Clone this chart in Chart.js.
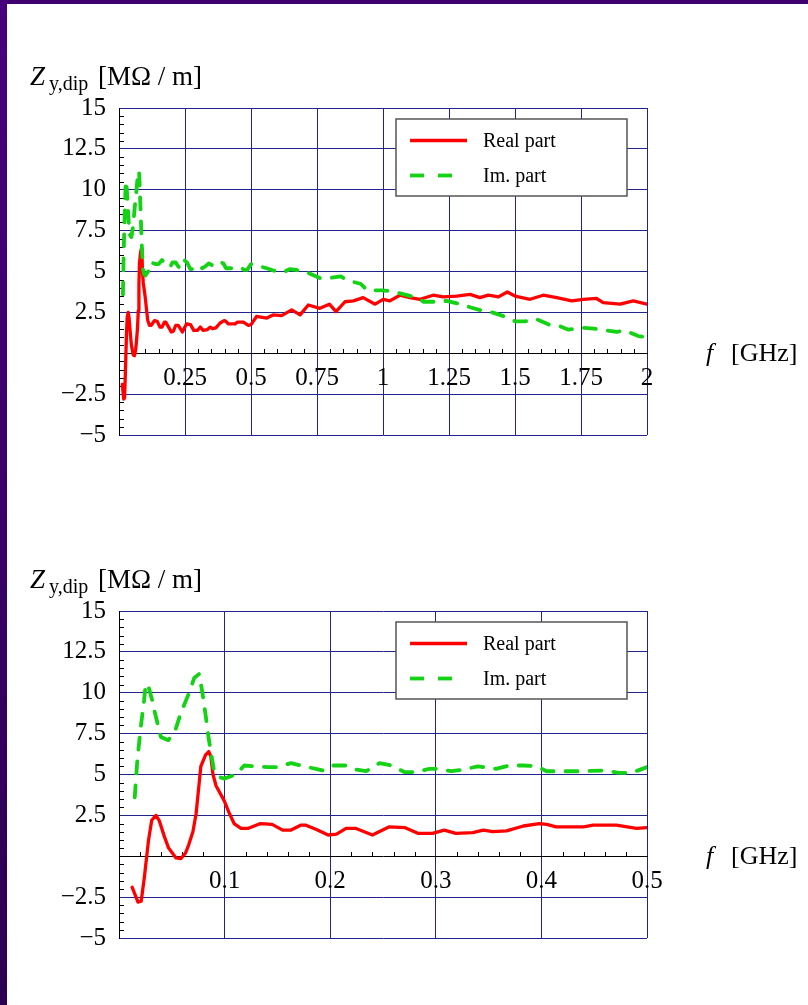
<!DOCTYPE html>
<html>
<head>
<meta charset="utf-8">
<script src="https://cdn.jsdelivr.net/npm/chart.js@4.4.1/dist/chart.umd.min.js"></script>
<style>
  html, body { margin: 0; padding: 0; background: #fff; }
  body { width: 808px; height: 1005px; position: relative; overflow: hidden;
         font-family: 'Liberation Serif', 'Times New Roman', serif; }
  #edgeTop { position: absolute; left: 0; top: 0; width: 808px; height: 4px; background: #40006f; }
  #edgeLeft { position: absolute; left: 0; top: 0; width: 7px; height: 1005px;
              background: linear-gradient(#47007d, #2c0051); }
  canvas { position: absolute; left: 0; }
  .lbl { position: absolute; white-space: nowrap; color: #000; line-height: 1; }
</style>
</head>
<body>
<div id="edgeTop"></div>
<div id="edgeLeft"></div>

<canvas id="chartWide" width="808" height="470" style="top:0px"></canvas>
<canvas id="chartZoom" width="808" height="470" style="top:503px"></canvas>

<!-- axis captions, upper panel -->
<span class="lbl" style="left:30px;top:63px;font-size:27px;font-style:italic">Z</span>
<span class="lbl" style="left:49px;top:73px;font-size:20px">y,dip</span>
<span class="lbl" style="left:98px;top:63px;font-size:27px">[MΩ / m]</span>
<span class="lbl" style="left:706px;top:340px;font-size:26px;font-style:italic">f</span>
<span class="lbl" style="left:731px;top:340px;font-size:26px">[GHz]</span>

<!-- axis captions, lower panel -->
<span class="lbl" style="left:30px;top:566px;font-size:27px;font-style:italic">Z</span>
<span class="lbl" style="left:49px;top:576px;font-size:20px">y,dip</span>
<span class="lbl" style="left:98px;top:566px;font-size:27px">[MΩ / m]</span>
<span class="lbl" style="left:706px;top:843px;font-size:26px;font-style:italic">f</span>
<span class="lbl" style="left:731px;top:843px;font-size:26px">[GHz]</span>

<script>
// Transverse dipolar impedance Z_y,dip versus frequency (GHz), MΩ/m
const seriesNames = ['Real part', 'Im. part'];

const freqReal = [
  0.0125, 0.018, 0.021, 0.024, 0.028, 0.031, 0.035, 0.038, 0.043, 0.047,
  0.054, 0.0585, 0.063, 0.066, 0.070, 0.073, 0.0755, 0.0775, 0.082, 0.085,
  0.087, 0.089, 0.092, 0.0996, 0.104, 0.109, 0.1155, 0.122, 0.128, 0.134,
  0.145, 0.155, 0.163, 0.172, 0.177, 0.187, 0.198, 0.206, 0.215, 0.2245,
  0.240, 0.256, 0.271, 0.283, 0.297, 0.308, 0.319, 0.335, 0.345, 0.354,
  0.367, 0.383, 0.398, 0.405, 0.414, 0.440, 0.449, 0.471, 0.490, 0.500,
  0.521, 0.560, 0.585, 0.616, 0.654, 0.686, 0.717, 0.761, 0.797, 0.822,
  0.856, 0.888, 0.925, 0.970, 1.001, 1.026, 1.064, 1.102, 1.140, 1.190,
  1.228, 1.279, 1.330, 1.367, 1.399, 1.437, 1.471, 1.500, 1.557, 1.607,
  1.658, 1.715, 1.759, 1.809, 1.834, 1.898, 1.948, 2.000
];
const realPart = [
  -1.9, -2.8, -2.75, -1.3, 1.0, 2.2, 2.5, 2.2, 1.2, 0.5,
  -0.1, -0.15, 0.2, 0.7, 1.5, 2.6, 4.2, 5.5, 6.2, 6.4,
  6.1, 5.0, 4.3, 3.4, 2.7, 2.0, 1.7, 1.7, 1.85, 2.0,
  1.95, 1.6, 1.6, 1.9, 1.9, 1.63, 1.3, 1.35, 1.7, 1.7,
  1.3, 1.8, 1.75, 1.4, 1.4, 1.6, 1.4, 1.45, 1.6, 1.5,
  1.55, 1.85, 2.0, 1.95, 1.8, 1.8, 1.9, 1.9, 1.7, 1.75,
  2.25, 2.15, 2.35, 2.3, 2.65, 2.35, 2.95, 2.75, 3.0, 2.55,
  3.15, 3.2, 3.4, 3.0, 3.3, 3.2, 3.55, 3.4, 3.3, 3.55,
  3.45, 3.5, 3.6, 3.4, 3.55, 3.45, 3.75, 3.5, 3.3, 3.55,
  3.4, 3.2, 3.3, 3.35, 3.1, 3.0, 3.2, 3.0
];

const freqIm = [
  0.0149, 0.0174, 0.0206, 0.0237, 0.0253, 0.0278, 0.0316, 0.0332, 0.0373, 0.0396,
  0.0468, 0.0538, 0.0585, 0.0664, 0.0712, 0.0759, 0.079, 0.0822, 0.0847, 0.087,
  0.0901, 0.0949, 0.0996, 0.1107, 0.1186, 0.130, 0.1407, 0.150, 0.163, 0.172,
  0.193, 0.2024, 0.215, 0.2245, 0.234, 0.2467, 0.2578, 0.2704, 0.2815, 0.294,
  0.302, 0.3147, 0.3257, 0.340, 0.357, 0.370, 0.3826, 0.3953, 0.405, 0.4238,
  0.436, 0.4618, 0.473, 0.4855, 0.500, 0.5595, 0.587, 0.6225, 0.648, 0.705,
  0.761, 0.797, 0.840, 0.865, 0.915, 0.940, 0.998, 1.030, 1.128, 1.153,
  1.200, 1.240, 1.294, 1.333, 1.377, 1.414, 1.469, 1.500, 1.538, 1.580,
  1.630, 1.670, 1.700, 1.759, 1.800, 1.847, 1.885, 1.917, 1.967, 1.990
];
const imPart = [
  3.6, 5.9, 7.9, 9.5, 10.55, 10.4, 9.5, 9.0, 7.9, 7.3,
  7.1, 7.8, 8.75, 10.0, 10.9, 11.15, 10.0, 8.55, 7.3, 6.4,
  5.2, 4.85, 4.75, 5.0, 5.55, 5.5, 5.45, 5.45, 5.7, 5.55,
  5.25, 5.55, 5.55, 5.3, 5.2, 5.7, 5.55, 5.15, 5.15, 5.35,
  5.35, 5.2, 5.3, 5.5, 5.35, 5.55, 5.55, 5.5, 5.2, 5.2,
  5.2, 5.25, 5.1, 5.1, 5.45, 5.2, 5.05, 4.95, 5.15, 5.0,
  4.6, 4.6, 4.7, 4.45, 4.25, 3.85, 3.85, 3.8, 3.4, 3.15,
  3.15, 3.2, 3.0, 2.8, 2.6, 2.5, 2.2, 1.95, 1.95, 2.1,
  1.75, 1.65, 1.45, 1.55, 1.5, 1.4, 1.3, 1.4, 1.05, 1.0
];

const yTickValues = [-5, -2.5, 0, 2.5, 5, 7.5, 10, 12.5, 15];
const yTickLabels = ['\u22125', '\u22122.5', '', '2.5', '5', '7.5', '10', '12.5', '15'];

const xTickValuesWide = [0, 0.25, 0.5, 0.75, 1, 1.25, 1.5, 1.75, 2];
const xTickLabelsWide = ['', '0.25', '0.5', '0.75', '1', '1.25', '1.5', '1.75', '2'];

const xTickValuesZoom = [0, 0.1, 0.2, 0.3, 0.4, 0.5];
const xTickLabelsZoom = ['', '0.1', '0.2', '0.3', '0.4', '0.5'];

const SERIF = "'Liberation Serif', 'Times New Roman', serif";
const GRID = '#23238c';
const CLEAR = 'rgba(0,0,0,0)';

const toPoints = (xs, ys) => xs.map((x, i) => ({ x: x, y: ys[i] }));

// Inward minor ticks on both axes and the boxed legend
const frameDecor = {
  id: 'frameDecor',
  beforeDatasetsDraw(chart, args, opts) {
    const { ctx, chartArea } = chart;
    const xs = chart.scales.x, ys = chart.scales.y;
    const y0 = Math.round(ys.getPixelForValue(0) - 0.5);
    const xLeft = Math.round(chartArea.left - 0.5) + 1;
    ctx.save();
    ctx.strokeStyle = '#000';
    ctx.lineWidth = 1;
    ctx.beginPath();
    const nx = Math.round(xs.max / opts.xMinor);
    for (let i = 1; i < nx; i++) {
      const v = i * opts.xMinor;
      const r = v / opts.xMajor;
      if (Math.abs(r - Math.round(r)) < 1e-6) continue;
      const px = Math.round(xs.getPixelForValue(v)) + 0.5;
      ctx.moveTo(px, y0);
      ctx.lineTo(px, y0 - 4);
    }
    const ny = Math.round((ys.max - ys.min) / 0.5);
    for (let j = 1; j < ny; j++) {
      const v = ys.min + j * 0.5;
      const r = v / 2.5;
      if (Math.abs(r - Math.round(r)) < 1e-6) continue;
      const py = Math.round(ys.getPixelForValue(v)) + 0.5;
      ctx.moveTo(xLeft, py);
      ctx.lineTo(xLeft + 4, py);
    }
    ctx.stroke();
    ctx.restore();
  },
  afterDatasetsDraw(chart) {
    const { ctx, chartArea } = chart;
    const L = chartArea.left + 277, T = chartArea.top + 11, W = 231, H = 77;
    ctx.save();
    ctx.fillStyle = '#fff';
    ctx.fillRect(L, T, W, H);
    ctx.strokeStyle = '#555';
    ctx.lineWidth = 1.5;
    ctx.strokeRect(L, T, W, H);
    chart.data.datasets.forEach((ds, i) => {
      const yy = T + 21.5 + i * 35;
      ctx.strokeStyle = ds.borderColor;
      ctx.lineWidth = ds.borderWidth;
      ctx.lineCap = 'butt';
      ctx.setLineDash(ds.borderDash ? [14, 14] : []);
      ctx.beginPath();
      ctx.moveTo(L + 14, yy);
      ctx.lineTo(ds.borderDash ? L + 57 : L + 71, yy);
      ctx.stroke();
      ctx.setLineDash([]);
      ctx.fillStyle = '#000';
      ctx.font = '20px ' + SERIF;
      ctx.textBaseline = 'middle';
      ctx.textAlign = 'left';
      ctx.fillText(ds.label, L + 87, yy + 1);
    });
    ctx.restore();
  }
};

function makeChart(id, xMax, xVals, xLabels, xMinor, xMajor) {
  const tickFont = { family: SERIF, size: 25 };
  return new Chart(document.getElementById(id), {
    type: 'line',
    data: {
      datasets: [
        {
          label: seriesNames[0],
          data: toPoints(freqReal, realPart),
          borderColor: '#ff0000',
          borderWidth: 3.3,
          pointRadius: 0,
          tension: 0,
          borderJoinStyle: 'round',
          borderCapStyle: 'round',
          order: 1
        },
        {
          label: seriesNames[1],
          data: toPoints(freqIm, imPart),
          borderColor: '#14d214',
          borderWidth: 3.8,
          borderDash: [12, 12],
          pointRadius: 0,
          tension: 0,
          borderJoinStyle: 'round',
          borderCapStyle: 'round',
          order: 0
        }
      ]
    },
    options: {
      responsive: false,
      animation: false,
      devicePixelRatio: 1,
      layout: { padding: { left: 59, right: 161, top: 108, bottom: 35 } },
      plugins: {
        legend: { display: false },
        tooltip: { enabled: false },
        frameDecor: { xMinor: xMinor, xMajor: xMajor }
      },
      scales: {
        x: {
          type: 'linear',
          position: { y: 0 },
          min: 0,
          max: xMax,
          afterBuildTicks: s => { s.ticks = xVals.map(v => ({ value: v })); },
          ticks: {
            callback: (v, i) => xLabels[i],
            autoSkip: false,
            maxRotation: 0,
            padding: 10,
            color: '#000',
            font: tickFont
          },
          grid: {
            color: c => (c.tick && c.tick.value === 0) ? CLEAR : GRID,
            lineWidth: 1,
            drawTicks: false
          },
          border: { color: '#000', width: 1 }
        },
        y: {
          type: 'linear',
          min: -5,
          max: 15,
          afterBuildTicks: s => { s.ticks = yTickValues.map(v => ({ value: v })); },
          afterFit: s => { s.width = 60; },
          ticks: {
            callback: (v, i) => yTickLabels[i],
            autoSkip: false,
            padding: 13,
            color: '#000',
            font: tickFont
          },
          grid: {
            color: c => (c.tick && c.tick.value === 0) ? CLEAR : GRID,
            lineWidth: 1,
            drawTicks: false
          },
          border: { color: '#000', width: 1 }
        }
      }
    },
    plugins: [frameDecor]
  });
}

makeChart('chartWide', 2, xTickValuesWide, xTickLabelsWide, 0.05, 0.25);
makeChart('chartZoom', 0.5, xTickValuesZoom, xTickLabelsZoom, 0.02, 0.1);
</script>
</body>
</html>
